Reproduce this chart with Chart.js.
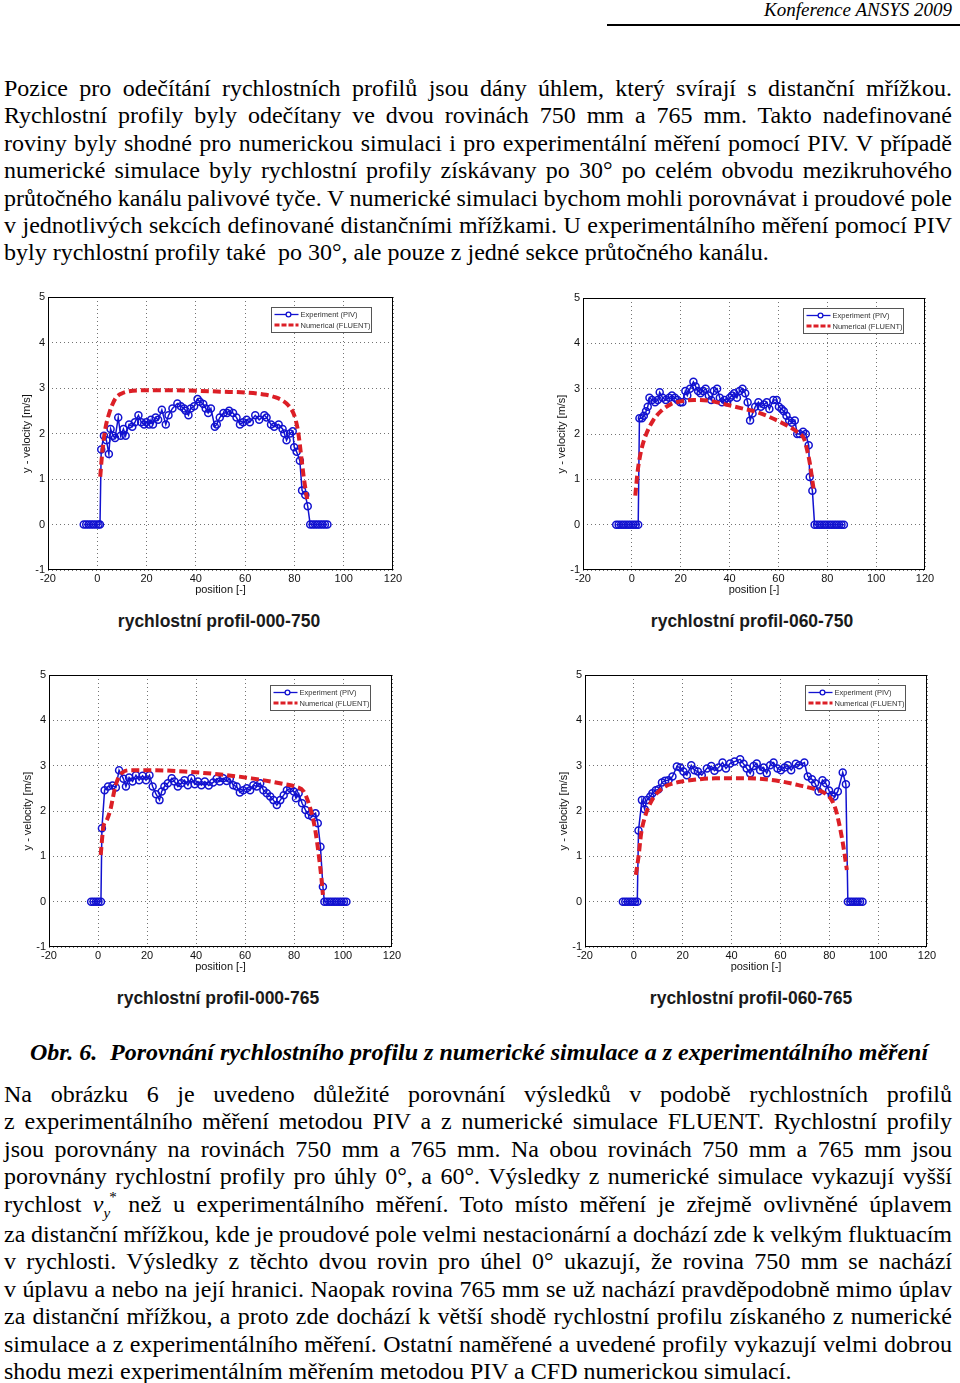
<!DOCTYPE html>
<html lang="cs">
<head>
<meta charset="utf-8">
<title>Porovnání rychlostního profilu</title>
<script src="https://cdn.jsdelivr.net/npm/chart.js@4.4.1/dist/chart.umd.min.js"></script>
<style>
  html, body { margin: 0; padding: 0; background: #fff; }
  body { position: relative; width: 960px; height: 1383px; overflow: hidden; color: #000; }
  .hdr { position: absolute; right: 8px; top: 0; font: italic 19px/19px 'Liberation Serif', 'Times New Roman', serif; }
  .hdrline { position: absolute; left: 607px; top: 24px; width: 353px; height: 2px; background: #000; }
  .para { position: absolute; left: 4px; font: 24px/27.4px 'Liberation Serif', 'Times New Roman', serif; }
  .ln { width: max-content; white-space: nowrap; }
  .sub { position: relative; top: 6px; font-size: 15px; font-style: italic; }
  .sup { position: relative; top: -10px; font-size: 15px; margin-left: -1px; }
  canvas { position: absolute; }
  .cap { position: absolute; width: 400px; text-align: center; font: bold 17.5px/20px 'Liberation Sans', Arial, sans-serif; color: #1a1a1a; }
  .obr { position: absolute; top: 1039px; font: italic bold 24px/27.4px 'Liberation Serif', 'Times New Roman', serif; white-space: nowrap; }
</style>
</head>
<body>

<div class="hdr">Konference ANSYS 2009</div>
<div class="hdrline"></div>

<div class="para" style="top:75px">
<div class="ln j">Pozice pro odečítání rychlostních profilů jsou dány úhlem, který svírají s distanční mřížkou.</div>
<div class="ln j">Rychlostní profily byly odečítany ve dvou rovinách 750 mm a 765 mm. Takto nadefinované</div>
<div class="ln j">roviny byly shodné pro numerickou simulaci i pro experimentální měření pomocí PIV. V případě</div>
<div class="ln j">numerické simulace byly rychlostní profily získávany po 30° po celém obvodu mezikruhového</div>
<div class="ln j">průtočného kanálu palivové tyče. V numerické simulaci bychom mohli porovnávat i proudové pole</div>
<div class="ln j">v jednotlivých sekcích definované distančními mřížkami. U experimentálního měření pomocí PIV</div>
<div class="ln">byly rychlostní profily také&nbsp; po 30°, ale pouze z jedné sekce průtočného kanálu.</div>
</div>

<canvas id="p000_750"></canvas>
<canvas id="p060_750"></canvas>
<canvas id="p000_765"></canvas>
<canvas id="p060_765"></canvas>

<div class="cap" style="left:19px;top:611px">rychlostní profil-000-750</div>
<div class="cap" style="left:552px;top:611px">rychlostní profil-060-750</div>
<div class="cap" style="left:18px;top:988px">rychlostní profil-000-765</div>
<div class="cap" style="left:551px;top:988px">rychlostní profil-060-765</div>

<div class="obr" style="left:30px">Obr. 6.</div>
<div class="obr" style="left:110px">Porovnání rychlostního profilu z numerické simulace a z experimentálního měření</div>

<div class="para" style="top:1081px">
<div class="ln j">Na obrázku 6 je uvedeno důležité porovnání výsledků v podobě rychlostních profilů</div>
<div class="ln j">z experimentálního měření metodou PIV a z numerické simulace FLUENT. Rychlostní profily</div>
<div class="ln j">jsou porovnány na rovinách 750 mm a 765 mm. Na obou rovinách 750 mm a 765 mm jsou</div>
<div class="ln j">porovnány rychlostní profily pro úhly 0°, a 60°. Výsledky z numerické simulace vykazují vyšší</div>
<div class="ln j">rychlost <i>v</i><span class="sub">y</span><span class="sup">*</span> než u experimentálního měření. Toto místo měření je zřejmě ovlivněné úplavem</div>
<div class="ln j">za distanční mřížkou, kde je proudové pole velmi nestacionární a dochází zde k velkým fluktuacím</div>
<div class="ln j">v rychlosti. Výsledky z těchto dvou rovin pro úhel 0° ukazují, že rovina 750 mm se nachází</div>
<div class="ln j">v úplavu a nebo na její hranici. Naopak rovina 765 mm se už nachází pravděpodobně mimo úplav</div>
<div class="ln j">za distanční mřížkou, a proto zde dochází k větší shodě rychlostní profilu získaného z numerické</div>
<div class="ln j">simulace a z experimentálního měření. Ostatní naměřené a uvedené profily vykazují velmi dobrou</div>
<div class="ln">shodu mezi experimentálním měřením metodou PIV a CFD numerickou simulací.</div>
</div>

<script>
// values: position [-] and y-velocity [m/s]

// profil 000-750
const exp000_750_pos = [-5.5, -4.5, -3.5, -2.5, -1.5, -0.5, 0.5, 1.1,
  1.6, 2.7, 3.7, 4.7, 5.4, 6.4, 7.2, 8.5, 9.5, 10.6, 11.5, 12.9, 14.2, 15.3, 16.7, 17.8, 19.0, 19.9, 21.0, 21.8,
  22.6, 23.7, 24.7, 26.2, 27.8, 28.9, 30.5, 32.5, 33.9, 35.2, 35.9, 37.0, 37.9, 39.3, 40.7, 41.6, 43.0, 44.0, 45.0, 46.1,
  47.7, 48.5, 49.7, 51.2, 52.7, 53.5, 55.1, 56.5, 57.9, 59.2, 60.6, 61.9, 64.1, 65.7, 67.8, 68.7, 70.5, 71.8, 73.6, 75.2,
  75.9, 76.8, 78.2, 79.3, 79.9, 80.9, 82.2, 83.1, 84.4, 85.4,
  86.4, 87.4, 88.4, 89.4, 90.4, 91.4, 92.4, 93.4];
const exp000_750_vel = [0, 0, 0, 0, 0, 0, 0, 0,
  1.65, 1.95, 1.85, 1.55, 2.1, 1.95, 1.9, 2.35, 1.95, 2.1, 1.95, 2.2, 2.15, 2.25, 2.4, 2.25, 2.2, 2.25, 2.2, 2.3,
  2.2, 2.35, 2.3, 2.52, 2.2, 2.4, 2.55, 2.66, 2.6, 2.55, 2.5, 2.4, 2.55, 2.6, 2.76, 2.7, 2.65, 2.55, 2.45, 2.55,
  2.15, 2.2, 2.35, 2.45, 2.45, 2.5, 2.45, 2.35, 2.2, 2.25, 2.3, 2.25, 2.4, 2.3, 2.4, 2.35, 2.2, 2.15, 2.2, 2.1,
  2.0, 1.85, 2.0, 2.05, 1.7, 1.6, 1.4, 0.75, 0.65, 0.4,
  0, 0, 0, 0, 0, 0, 0, 0];
const num000_750_pos = [1.2, 1.8, 2.7, 3.6, 4.7, 6.0, 7.5, 9.5, 12.9, 20, 30, 40, 50, 60, 68.5, 72, 75.3, 77.5,
  79.3, 80.5, 81.4, 82.1, 82.7, 83.2, 83.7, 84.2, 84.7, 85.2];
const num000_750_vel = [1.05, 1.45, 1.9, 2.2, 2.42, 2.62, 2.78, 2.87, 2.93, 2.95, 2.95, 2.94, 2.92, 2.9, 2.85, 2.8, 2.72, 2.62,
  2.48, 2.3, 2.07, 1.8, 1.52, 1.3, 1.07, 0.88, 0.7, 0.56];

// profil 060-750
const exp060_750_pos = [-6.4, -5.4, -4.4, -3.4, -2.4, -1.4, -0.4, 0.6, 1.6, 2.6,
  3.1, 4.1, 4.9, 5.8, 6.5, 7.2, 8.3, 9.5, 10.6, 11.4, 12.6, 13.9, 15.3, 16.4, 17.6, 18.7, 19.8, 20.7, 21.9, 22.7,
  23.8, 25.2, 26.1, 27.1, 28.1, 29.2, 30.2, 31.5, 32.5, 33.6, 34.9, 36.0, 36.9, 37.9, 39.0, 40.1, 41.0, 41.9, 43.0, 44.1,
  45.3, 46.4, 47.4, 48.4, 49.4, 50.5, 51.8, 52.8, 54.1, 55.2, 56.3, 57.9, 59.3, 60.2, 61.3, 62.2, 63.3, 64.4, 65.5, 66.7,
  67.7, 68.7, 70.1, 71.2, 72.4, 72.8, 73.9,
  74.8, 75.8, 76.8, 77.8, 78.8, 79.8, 80.8, 81.8, 82.8, 83.8, 84.8, 85.8, 86.8];
const exp060_750_vel = [0, 0, 0, 0, 0, 0, 0, 0, 0, 0,
  2.35, 2.35, 2.4, 2.5, 2.6, 2.8, 2.75, 2.7, 2.75, 2.92, 2.8, 2.75, 2.8, 2.85, 2.8, 2.75, 2.7, 2.7, 2.95, 2.85,
  3.0, 3.15, 3.05, 2.95, 2.9, 2.95, 3.0, 2.85, 2.75, 2.95, 3.0, 2.8, 2.7, 2.75, 2.7, 2.8, 2.85, 2.9, 2.8, 2.95,
  3.0, 2.9, 2.7, 2.3, 2.45, 2.6, 2.7, 2.6, 2.65, 2.7, 2.55, 2.75, 2.75, 2.6, 2.55, 2.5, 2.4, 2.3, 2.25, 2.3,
  2.0, 2.0, 2.05, 2.0, 1.75, 1.05, 0.75,
  0, 0, 0, 0, 0, 0, 0, 0, 0, 0, 0, 0, 0];
const num060_750_pos = [1.4, 2.4, 3.8, 5.9, 8.6, 12.0, 16.0, 20.0, 25.6, 31.0, 37.8, 44.6, 51.4, 58.2, 63.7, 67.8,
  70.5, 71.8, 72.9, 73.9, 74.6];
const num060_750_vel = [0.64, 1.19, 1.63, 2.0, 2.29, 2.51, 2.66, 2.72, 2.75, 2.74, 2.66, 2.57, 2.48, 2.33, 2.18, 2.04,
  1.89, 1.63, 1.34, 0.97, 0.71];

// profil 000-765
const exp000_765_pos = [-2.8, -1.8, -0.8, 0.2, 1.2,
  1.6, 2.7, 4.1, 5.9, 7.3, 8.6, 10.4, 11.4, 12.7, 14.1, 15.5, 16.8, 18.2, 19.6, 21.0, 22.3, 23.7, 25.1, 26.0, 27.1,
  28.5, 30.1, 31.2, 32.6, 34.0, 35.3, 36.7, 38.1, 39.5, 40.8, 42.2, 43.6, 45.2, 47.0, 48.4, 49.7, 51.1, 52.5, 53.8, 55.2,
  56.6, 57.9, 59.3, 60.7, 62.1, 63.4, 64.8, 66.2, 67.5, 68.9, 70.3, 71.6, 73.0, 74.4, 75.8, 77.1, 78.5, 79.9, 80.8, 81.9,
  83.3, 84.7, 86.0, 87.4, 88.8, 89.7, 90.8, 91.8,
  92.4, 93.4, 94.4, 95.4, 96.4, 97.4, 98.4, 99.4, 100.4, 101.4];
const exp000_765_vel = [0, 0, 0, 0, 0,
  1.62, 2.46, 2.54, 2.56, 2.52, 2.9, 2.71, 2.54, 2.74, 2.65, 2.79, 2.68, 2.78, 2.68, 2.79, 2.54, 2.37, 2.24, 2.43, 2.54,
  2.61, 2.72, 2.65, 2.54, 2.61, 2.68, 2.57, 2.72, 2.59, 2.65, 2.57, 2.65, 2.56, 2.63, 2.71, 2.65, 2.72, 2.66, 2.71, 2.57,
  2.54, 2.41, 2.46, 2.5, 2.46, 2.57, 2.54, 2.61, 2.46, 2.39, 2.32, 2.24, 2.13, 2.24, 2.35, 2.46, 2.5, 2.43, 2.28, 2.39,
  2.17, 2.02, 1.91, 1.88, 1.95, 1.73, 1.21, 0.33,
  0, 0, 0, 0, 0, 0, 0, 0, 0, 0];
const num000_765_pos = [1.1, 2.2, 3.6, 5.2, 6.6, 7.9, 10.0, 13.4, 21.6, 35.3, 49.0, 62.7, 76.4, 80.5, 84.0, 85.8,
  87.4, 88.8, 90.1, 91.2, 91.8];
const num000_765_vel = [1.03, 1.65, 1.8, 2.06, 2.43, 2.68, 2.85, 2.9, 2.9, 2.87, 2.81, 2.72, 2.59, 2.54, 2.43, 2.2,
  1.91, 1.54, 1.03, 0.51, 0.15];

// profil 060-765
const exp060_765_pos = [-4.5, -3.5, -2.5, -1.5, -0.5, 0.5, 1.4,
  1.9, 3.3, 4.4, 5.3, 6.7, 7.6, 9.0, 10.1, 11.5, 12.8, 14.2, 15.8, 17.6, 19.0, 20.3, 21.7, 23.5, 24.8, 26.2, 27.8,
  29.9, 31.7, 33.0, 34.7, 36.3, 37.7, 39.4, 41.2, 43.5, 44.9, 46.2, 47.6, 49.0, 50.3, 51.7, 53.1, 54.4, 55.8, 57.2, 58.8,
  60.2, 61.7, 63.0, 64.4, 66.3, 67.7, 69.8, 71.2, 72.9, 74.2, 75.6, 77.2, 78.6, 79.9, 81.0, 82.1, 83.5, 85.5, 86.8,
  87.6, 88.6, 89.6, 90.6, 91.6, 92.6, 93.6];
const exp060_765_vel = [0, 0, 0, 0, 0, 0, 0,
  1.57, 2.24, 2.04, 2.24, 2.32, 2.39, 2.46, 2.48, 2.63, 2.67, 2.68, 2.76, 2.98, 2.96, 2.87, 2.79, 3.01, 2.9, 2.87, 2.79,
  2.94, 2.99, 2.89, 2.96, 3.07, 2.94, 3.05, 3.09, 3.14, 3.04, 2.94, 2.83, 2.99, 3.05, 2.9, 2.96, 2.83, 3.01, 3.07, 2.94,
  2.9, 2.96, 3.01, 2.9, 3.04, 3.01, 3.07, 2.76, 2.7, 2.61, 2.43, 2.68, 2.61, 2.45, 2.35, 2.32, 2.43, 2.85, 2.59,
  0, 0, 0, 0, 0, 0, 0];
const num060_765_pos = [0.8, 1.9, 3.0, 4.6, 6.7, 9.4, 12.8, 16.2, 19.6, 26.5, 33.3, 46.9, 53.8, 60.6, 67.4, 74.2,
  78.3, 81.0, 82.7, 84.0, 85.1, 86.2, 87.2];
const num060_765_vel = [0.59, 0.99, 1.51, 1.88, 2.17, 2.39, 2.54, 2.61, 2.65, 2.7, 2.72, 2.72, 2.7, 2.65, 2.57, 2.48,
  2.39, 2.24, 2.02, 1.73, 1.43, 1.07, 0.7];

const xTicks = [-20, 0, 20, 40, 60, 80, 100, 120];
const yTicks = [-1, 0, 1, 2, 3, 4, 5];
const seriesNames = ['Experiment (PIV)', 'Numerical (FLUENT)'];

const BLUE = '#1212d0';
const RED = '#dc1f26';
const AXIS_FONT = { family: "'Liberation Sans', Arial, sans-serif", size: 11 };

// justify the text lines to the column width
document.querySelectorAll('.j').forEach((el) => {
  const gaps = (el.textContent.match(/[ \u00a0]/g) || []).length;
  const extra = 948 - el.getBoundingClientRect().width;
  el.style.wordSpacing = extra / gaps + 'px';
});

function points(xs, ys) {
  const n = Math.min(xs.length, ys.length);
  return xs.slice(0, n).map((x, i) => ({ x: x, y: ys[i] }));
}

// matlab-like closed frame and legend box in the upper right corner
const frameAndLegend = {
  id: 'frameAndLegend',
  afterDraw(chart) {
    const { ctx, chartArea: a } = chart;
    ctx.save();
    ctx.strokeStyle = '#000';
    ctx.lineWidth = 1;
    ctx.setLineDash([]);
    const l = Math.round(a.left) + 0.5, t = Math.round(a.top) + 0.5;
    const r = Math.round(a.right) - 0.5, b = Math.round(a.bottom) - 0.5;
    ctx.strokeRect(l, t, r - l, b - t);

    const w = 100, h = 25;
    const lx = Math.round(a.right) - 22 - w + 0.5, ly = Math.round(a.top) + 10.5;
    ctx.fillStyle = '#fff';
    ctx.fillRect(lx, ly, w, h);
    ctx.strokeStyle = '#555';
    ctx.strokeRect(lx, ly, w, h);

    ctx.font = "7.5px 'Liberation Sans', Arial, sans-serif";
    ctx.textBaseline = 'middle';
    chart.data.datasets.forEach((ds, i) => {
      const y = ly + 7 + i * 10.5;
      ctx.strokeStyle = ds.borderColor;
      ctx.lineWidth = i ? 3 : 1.3;
      ctx.setLineDash(i ? [5, 2] : []);
      ctx.beginPath();
      ctx.moveTo(lx + 3, y);
      ctx.lineTo(lx + 27, y);
      ctx.stroke();
      if (!i) {
        ctx.beginPath();
        ctx.arc(lx + 17, y, 2.4, 0, Math.PI * 2);
        ctx.fillStyle = '#fff';
        ctx.fill();
        ctx.stroke();
      }
      ctx.setLineDash([]);
      ctx.fillStyle = '#333';
      ctx.fillText(ds.label, lx + 29, y + 0.5);
    });
    ctx.restore();
  }
};

function profileChart(id, plot, expPos, expVel, numPos, numVel) {
  const padL = 48, padT = 12, padR = 28, padB = 35;
  const canvas = document.getElementById(id);
  canvas.width = plot.r - plot.l + padL + padR;
  canvas.height = plot.b - plot.t + padT + padB;
  canvas.style.left = plot.l - padL + 'px';
  canvas.style.top = plot.t - padT + 'px';

  const gridLines = { color: 'rgba(0,0,0,0.55)', lineWidth: 1, drawTicks: false, borderDash: [1, 3] };
  const border = { display: false, dash: [1, 3] };

  new Chart(canvas.getContext('2d'), {
    type: 'scatter',
    data: {
      datasets: [
        {
          label: seriesNames[0],
          data: points(expPos, expVel),
          showLine: true,
          borderColor: BLUE,
          borderWidth: 1.5,
          pointRadius: 3.5,
          pointBorderWidth: 1.5,
          pointBorderColor: BLUE,
          pointBackgroundColor: 'rgba(255,255,255,0)',
          order: 2,
        },
        {
          label: seriesNames[1],
          data: points(numPos, numVel),
          showLine: true,
          borderColor: RED,
          borderWidth: 4,
          borderDash: [8, 4],
          pointRadius: 0,
          cubicInterpolationMode: 'monotone',
          order: 1,
        },
      ],
    },
    options: {
      responsive: false,
      animation: false,
      devicePixelRatio: 1,
      events: [],
      layout: { padding: { left: 0, top: padT, right: padR, bottom: 0 } },
      plugins: { legend: { display: false }, tooltip: { enabled: false } },
      scales: {
        x: {
          type: 'linear',
          min: xTicks[0],
          max: xTicks[xTicks.length - 1],
          afterBuildTicks: (s) => { s.ticks = xTicks.map((v) => ({ value: v })); },
          afterFit: (s) => { s.height = padB; },
          ticks: { font: AXIS_FONT, color: '#111', padding: 2, maxRotation: 0, autoSkip: false },
          grid: gridLines,
          border: border,
          title: { display: true, text: 'position [-]', font: AXIS_FONT, color: '#111', padding: { top: 0, bottom: 8 } },
        },
        y: {
          type: 'linear',
          min: yTicks[0],
          max: yTicks[yTicks.length - 1],
          afterBuildTicks: (s) => { s.ticks = yTicks.map((v) => ({ value: v })); },
          afterFit: (s) => { s.width = padL; },
          ticks: { font: AXIS_FONT, color: '#111', padding: 3, autoSkip: false },
          grid: gridLines,
          border: border,
          title: { display: true, text: 'y - velocity [m/s]', font: AXIS_FONT, color: '#111', padding: { top: 20, bottom: 0 } },
        },
      },
    },
    plugins: [frameAndLegend],
  });
}

profileChart('p000_750', { l: 48, t: 297, r: 393, b: 570 }, exp000_750_pos, exp000_750_vel, num000_750_pos, num000_750_vel);
profileChart('p060_750', { l: 583, t: 298, r: 925, b: 570 }, exp060_750_pos, exp060_750_vel, num060_750_pos, num060_750_vel);
profileChart('p000_765', { l: 49, t: 675, r: 392, b: 947 }, exp000_765_pos, exp000_765_vel, num000_765_pos, num000_765_vel);
profileChart('p060_765', { l: 585, t: 675, r: 927, b: 947 }, exp060_765_pos, exp060_765_vel, num060_765_pos, num060_765_vel);
</script>
</body>
</html>
